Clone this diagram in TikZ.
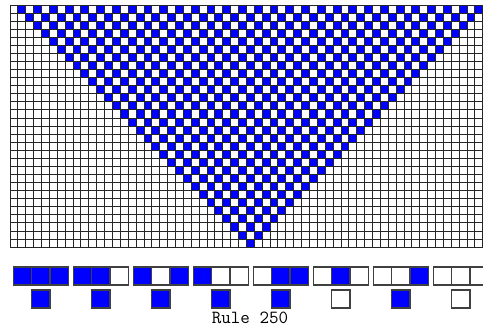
\documentclass[tikz,border=0pt]{standalone}
\usepackage{tikz}

\begin{document}
\begin{tikzpicture}[
  x=1pt, y=-1pt,
  gridline/.style={draw=black!85, line width=0.9pt},
  rulecell/.style={draw=black!75, line width=1.2pt},
  cell0/.style={fill=white},
  cell1/.style={fill=blue}
]
\useasboundingbox (0,0) rectangle (483,328);
\fill[white] (0,0) rectangle (483,328);

\def\cw{7.88}
\def\ch{8.07}

% evolution, apex at the bottom row
\foreach \r in {0,...,29}{
  \pgfmathtruncatemacro{\t}{29-\r}
  \foreach \k in {0,...,\t}{
    \pgfmathtruncatemacro{\c}{30-\t+2*\k}
    \fill[blue] ({10+\c*\cw},{5+\r*\ch}) rectangle +(\cw,\ch);
  }
}
\foreach \c in {0,...,60}
  \draw[gridline] ({10+\c*\cw},5) -- ++(0,{30*\ch});
\foreach \r in {0,...,30}
  \draw[gridline] (10,{5+\r*\ch}) -- ++({60*\cw},0);

% rule table
\foreach \a/\b/\c/\o [count=\i from 0] in
  {1/1/1/1, 1/1/0/1, 1/0/1/1, 1/0/0/1, 0/1/1/1, 0/1/0/0, 0/0/1/1, 0/0/0/0}{
  \pgfmathsetmacro{\gx}{13.3+60*\i}
  \draw[rulecell, cell\a] (\gx,267) rectangle +(18.3,18);
  \draw[rulecell, cell\b] ({\gx+18.3},267) rectangle +(18.3,18);
  \draw[rulecell, cell\c] ({\gx+36.6},267) rectangle +(18.3,18);
  \draw[rulecell, cell\o] ({\gx+18.3},290) rectangle +(18.3,18);
}

\node[font=\ttfamily\fontsize{18.5}{18.5}\selectfont, inner sep=0pt] (rulename) at (250,318) {Rule 250};

\end{tikzpicture}
\end{document}
